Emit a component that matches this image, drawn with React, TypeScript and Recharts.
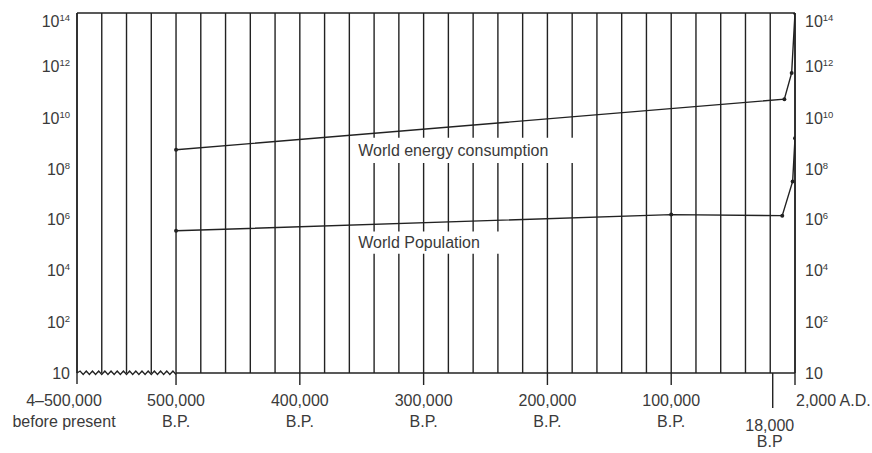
import React from 'react';
import { LineChart, Line, XAxis, YAxis, ReferenceLine, ReferenceArea } from 'recharts';

// Years before present (x) and log10 of value (y)
const energyYearsBP = [500000, 8600, 2700, 0];
const energyLog10 = [8.68, 10.65, 11.67, 14];
const populationYearsBP = [500000, 100000, 10300, 1900, 0];
const populationLog10 = [5.53, 6.16, 6.12, 7.45, 9.13];

const xTickYears = [580000, 500000, 400000, 300000, 200000, 100000, 18000, 0];
const xTickLabels = [
  ['4–500,000', 'before present'],
  ['500,000', 'B.P.'],
  ['400,000', 'B.P.'],
  ['300,000', 'B.P.'],
  ['200,000', 'B.P.'],
  ['100,000', 'B.P.'],
  ['18,000', 'B.P'],
  ['2,000 A.D.'],
];
const yTickExponents = [0, 2, 4, 6, 8, 10, 12, 14];
const yTickSuperscripts = ['', '2', '4', '6', '8', '10', '12', '14'];
const gridYears = [
  0, 20000, 40000, 60000, 80000, 100000, 120000, 140000, 160000, 180000,
  200000, 220000, 240000, 260000, 280000, 300000, 320000, 340000, 360000, 380000,
  400000, 420000, 440000, 460000, 480000, 500000, 520000, 540000, 560000, 580000,
];
const seriesNames = ['World energy consumption', 'World Population'];

const energyData = energyYearsBP.map((bp, i) => ({ bp, v: energyLog10[i] }));
const populationData = populationYearsBP.map((bp, i) => ({ bp, v: populationLog10[i] }));

const FONT = "'Liberation Sans', Arial, sans-serif";
const TEXT = '#3a3a3a';
const INK = '#222';

const XTick = (props: any) => {
  const { x, y, payload } = props;
  const v = payload.value;
  const i = xTickYears.indexOf(v);
  const lines = xTickLabels[i] || [];
  let len = 12;
  let anchor = 'middle';
  let dx = 0;
  let b1 = 33;
  let b2 = 54;
  if (v === 580000) { dx = -13; len = 11; }
  if (v === 18000) { len = 35; dx = -3; b1 = 58; b2 = 74; }
  if (v === 0) { anchor = 'start'; dx = 1; }
  return (
    <g>
      <line x1={x} y1={y} x2={x} y2={y + len} stroke={INK} strokeWidth={1.4} />
      {lines.map((t, k) => (
        <text key={k} x={x + dx} y={y + (k === 0 ? b1 : b2)} textAnchor={anchor as any}
          fontFamily={FONT} fontSize={16} fill={TEXT}>{t}</text>
      ))}
    </g>
  );
};

const makeYTick = (side: 'left' | 'right') => (props: any) => {
  const { x, y, payload } = props;
  const v = payload.value;
  const sup = yTickSuperscripts[yTickExponents.indexOf(v)];
  const shift = v === 14 ? 8 : v >= 8 ? 2 : 0;
  const base = y + shift + 6;
  return (
    <text x={side === 'left' ? x - 7 : x + 10} y={base} textAnchor={side === 'left' ? 'end' : 'start'}
      fontFamily={FONT} fontSize={16} fill={TEXT}>
      <tspan>10</tspan>
      {sup ? <tspan dy={-6} fontSize={9.5}>{sup}</tspan> : null}
    </text>
  );
};

const Zigzag = (p: any) => {
  const xa = Math.min(p.x1, p.x2);
  const xb = Math.max(p.x1, p.x2);
  const yy = p.y1;
  const n = 16;
  const w = (xb - xa) / n;
  let d = `M${xa},${yy}`;
  for (let k = 0; k < n; k++) {
    d += ` L${xa + w * (k + 0.5)},${yy - 2} L${xa + w * (k + 1)},${yy + 1.5}`;
  }
  return <path d={d} fill="none" stroke={INK} strokeWidth={1.3} />;
};

export default function App() {
  return (
    <div style={{ position: 'fixed', left: 0, top: 0, width: 872, height: 453, background: '#fff' }}>
      <LineChart width={872} height={453} margin={{ top: 13, right: 0, bottom: 0, left: 0 }}>
        <XAxis type="number" dataKey="bp" domain={[0, 580000]} reversed ticks={xTickYears} interval={0}
          tick={XTick} tickLine={false} axisLine={false} tickSize={0} tickMargin={0} height={80}
          allowDataOverflow />
        <YAxis yAxisId="left" type="number" domain={[0, 14]} ticks={yTickExponents} interval={0}
          width={77} tick={makeYTick('left')} tickLine={false} tickSize={0} tickMargin={0}
          axisLine={{ stroke: INK, strokeWidth: 1.5 }} allowDataOverflow />
        <YAxis yAxisId="right" orientation="right" type="number" domain={[0, 14]} ticks={yTickExponents}
          interval={0} width={77} tick={makeYTick('right')} tickLine={false} tickSize={0} tickMargin={0}
          axisLine={{ stroke: INK, strokeWidth: 1.5 }} allowDataOverflow />

        {gridYears.map((g) => (
          <ReferenceLine key={g} yAxisId="left" x={g} stroke={INK} strokeWidth={1.4} zIndex={0} />
        ))}
        <ReferenceLine yAxisId="left" y={14} stroke={INK} strokeWidth={1.5} zIndex={0} />
        <ReferenceLine yAxisId="left" segment={[{ x: 500000, y: 0 }, { x: 0, y: 0 }]} stroke={INK}
          strokeWidth={1.5} zIndex={0} />
        <ReferenceLine yAxisId="left" segment={[{ x: 580000, y: 0 }, { x: 500000, y: 0 }]}
          shape={Zigzag} zIndex={0} />

        <ReferenceArea yAxisId="left" x1={356000} x2={174000} y1={8.17} y2={9.15} fill="#fff" fillOpacity={1}
          stroke="none" zIndex={50}
          label={{ value: seriesNames[0], position: 'insideLeft', offset: 4, fill: TEXT, fontSize: 16, fontFamily: FONT }} />
        <ReferenceArea yAxisId="left" x1={356000} x2={230000} y1={4.64} y2={5.5} fill="#fff" fillOpacity={1}
          stroke="none" zIndex={50}
          label={{ value: seriesNames[1], position: 'insideLeft', offset: 4, fill: TEXT, fontSize: 16, fontFamily: FONT }} />

        <Line yAxisId="left" data={energyData} dataKey="v" name={seriesNames[0]} type="linear" stroke={INK}
          strokeWidth={1.4} dot={{ r: 2, fill: INK, stroke: 'none' }} activeDot={false}
          isAnimationActive={false} zIndex={400} />
        <Line yAxisId="left" data={populationData} dataKey="v" name={seriesNames[1]} type="linear" stroke={INK}
          strokeWidth={1.4} dot={{ r: 2, fill: INK, stroke: 'none' }} activeDot={false}
          isAnimationActive={false} zIndex={400} />
      </LineChart>
    </div>
  );
}
